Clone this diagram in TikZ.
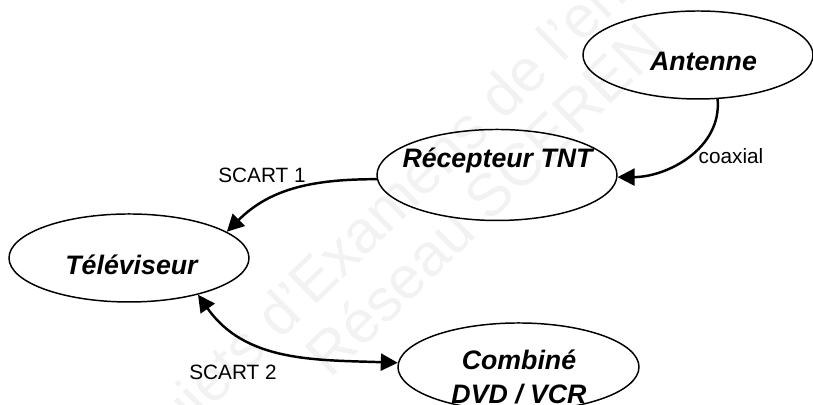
\documentclass[tikz,border=0pt]{standalone}
\usepackage{fontspec}
\setmainfont{Liberation Sans}
\usepackage{tikz}
\usetikzlibrary{shapes.geometric,arrows.meta}

\begin{document}
\begin{tikzpicture}[>={Triangle[length=1.7mm,width=1.7mm]},semithick]
\tikzset{
  appareil/.style={ellipse,draw,line width=0.42pt,inner sep=0pt},
  titre/.style={inner sep=0pt,align=center,font=\fontsize{7.6}{9.4}\selectfont\bfseries\itshape},
  cable/.style={line width=0.7pt},
  etiquette/.style={inner sep=0pt,font=\fontsize{5.9}{7}\selectfont},
  filigrane/.style={inner sep=0pt,anchor=west,rotate=44.5,text=black!5,font=\fontsize{17}{20}\selectfont}
}
\useasboundingbox (0,0) rectangle (8.13,4.05);
\clip (0,0) rectangle (8.13,4.05);

\node[filigrane] (f1) at (1.39,-0.53) {Sujets d'Examens de l'enseignement};
\node[filigrane] (f2) at (3.15,0.40) {Réseau SCEREN};

\node[appareil,minimum width=2.30cm,minimum height=0.88cm] (ant) at (6.98,3.50) {};
\node[appareil,minimum width=2.40cm,minimum height=0.91cm] (rec) at (4.97,2.30) {};
\node[appareil,minimum width=2.40cm,minimum height=0.88cm] (tele) at (1.29,1.47) {};
\node[appareil,minimum width=2.41cm,minimum height=0.88cm] (comb) at (5.185,0.38) {};

\node[titre] (tant) at (7.035,3.44) {Antenne};
\node[titre] (trec) at (4.975,2.45) {Récepteur TNT};
\node[titre] (ttele) at (1.315,1.40) {Téléviseur};
\node[titre] (tcomb) at (5.19,0.28) {Combiné\\DVD / VCR};

\node[etiquette] (l1) at (7.31,2.49) {coaxial};
\node[etiquette] (l2) at (2.62,2.30) {SCART 1};
\node[etiquette] (l3) at (2.33,0.33) {SCART 2};

\draw[cable,->] (ant.-66) to[out=-85,in=0] (rec.-1);
\draw[cable,->] (rec.182) to[out=180,in=45] (tele.15);
\draw[cable,<->] (tele.-28) to[out=-55,in=178] (comb.178);
\end{tikzpicture}
\end{document}
